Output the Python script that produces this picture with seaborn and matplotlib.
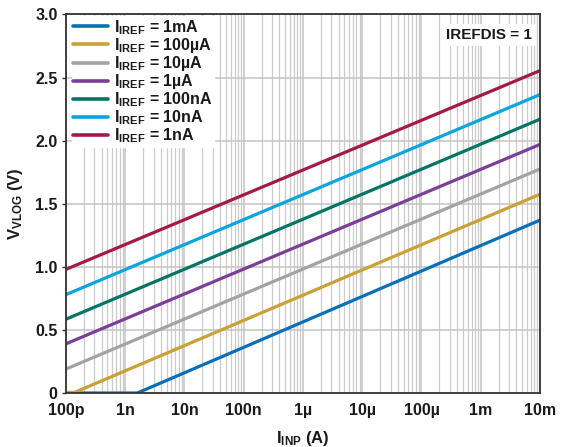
import numpy as np
import pandas as pd
import matplotlib
matplotlib.use("Agg")
import matplotlib.pyplot as plt
from matplotlib.ticker import FixedLocator, LogLocator, NullFormatter
import seaborn as sns

# Reference current settings and their trace colours
iref_labels = ["1mA", "100µA", "10µA", "1µA", "100nA", "10nA", "1nA"]
colors = ["#0a6fb8", "#c9a134", "#a3a3a3", "#7a3f96", "#007565", "#0aa5dc", "#a3194a"]

# Input current (A) and log-amp output voltage (V) breakpoints for each trace
x_1mA = [1e-10, 1.6e-9, 1e-2]
y_1mA = [0.0, 0.0, 1.37]
x_100uA = [1e-10, 1.4e-10, 1e-2]
y_100uA = [0.005, 0.005, 1.575]
x_10uA = [1e-10, 1e-2]
y_10uA = [0.19, 1.775]
x_1uA = [1e-10, 1e-2]
y_1uA = [0.39, 1.97]
x_100nA = [1e-10, 1e-2]
y_100nA = [0.585, 2.17]
x_10nA = [1e-10, 1e-2]
y_10nA = [0.78, 2.365]
x_1nA = [1e-10, 1e-2]
y_1nA = [0.98, 2.555]

xs = [x_1mA, x_100uA, x_10uA, x_1uA, x_100nA, x_10nA, x_1nA]
ys = [y_1mA, y_100uA, y_10uA, y_1uA, y_100nA, y_10nA, y_1nA]

x_tick_values = [1e-10, 1e-9, 1e-8, 1e-7, 1e-6, 1e-5, 1e-4, 1e-3, 1e-2]
x_tick_labels = ["100p", "1n", "10n", "100n", "1µ", "10µ", "100µ", "1m", "10m"]
y_tick_values = [0, 0.5, 1.0, 1.5, 2.0, 2.5, 3.0]
y_tick_labels = ["0", "0.5", "1.0", "1.5", "2.0", "2.5", "3.0"]

sns.set_theme(style="white")
plt.rcParams["font.family"] = ["Liberation Sans", "DejaVu Sans"]
plt.rcParams["font.weight"] = "bold"
plt.rcParams["mathtext.fontset"] = "custom"
plt.rcParams["mathtext.rm"] = "Liberation Sans:bold"
plt.rcParams["mathtext.it"] = "Liberation Sans:bold"
plt.rcParams["mathtext.bf"] = "Liberation Sans:bold"

labels = [r"$\mathregular{I_{IREF}}$ = " + s for s in iref_labels]
frames = []
for lab, xv, yv in zip(labels, xs, ys):
    frames.append(pd.DataFrame({"iinp": xv, "vvlog": yv, "series": lab}))
df = pd.concat(frames, ignore_index=True)

fig = plt.figure(figsize=(5.8, 4.47), dpi=100)
ax = fig.add_axes([0.1138, 0.1208, 0.8172, 0.8468])

sns.lineplot(data=df, x="iinp", y="vvlog", hue="series", hue_order=labels,
             palette=colors, linewidth=2.3, ax=ax, sort=False, estimator=None)

ax.set_xscale("log")
ax.set_xlim(1e-10, 1e-2)
ax.set_ylim(0, 3.0)

ax.xaxis.set_major_locator(FixedLocator(x_tick_values))
ax.set_xticks(x_tick_values)
ax.set_xticklabels(x_tick_labels)
ax.xaxis.set_minor_locator(LogLocator(base=10, subs=np.arange(2, 10), numticks=50))
ax.xaxis.set_minor_formatter(NullFormatter())
ax.set_yticks(y_tick_values)
ax.set_yticklabels(y_tick_labels)

ax.grid(True, which="major", axis="both", color="#c4c4c4", linewidth=1.1)
ax.grid(True, which="minor", axis="x", color="#cbcbcb", linewidth=0.9)
ax.set_axisbelow(True)

ax.tick_params(axis="x", which="both", length=0, pad=7, labelsize=11.5)
ax.tick_params(axis="y", which="major", length=3, width=1, direction="out",
               left=True, pad=3, labelsize=11.5, color="#333333")
for lab in ax.get_xticklabels() + ax.get_yticklabels():
    lab.set_fontweight("bold")
    lab.set_color("#1a1a1a")

for sp in ax.spines.values():
    sp.set_visible(True)
    sp.set_color("#333333")
    sp.set_linewidth(1.3)

ax.set_xlabel(r"$\mathregular{I_{INP}}$ (A)", fontsize=12, fontweight="bold",
              color="#1a1a1a", labelpad=8)
ax.set_ylabel(r"$\mathregular{V_{VLOG}}$ (V)", fontsize=12, fontweight="bold",
              color="#1a1a1a", labelpad=7)

leg = ax.legend(loc="upper left", bbox_to_anchor=(0.01, 0.997), frameon=True,
                fancybox=False, framealpha=1.0, edgecolor="white",
                facecolor="white", fontsize=11.5, handlelength=2.2,
                handletextpad=0.35, labelspacing=-0.05, borderpad=0.1,
                borderaxespad=0.05, title=None)
for t in leg.get_texts():
    t.set_fontweight("bold")
    t.set_color("#1a1a1a")
for h in leg.get_lines():
    h.set_linewidth(2.6)

ax.text(0.983, 0.965, "IREFDIS = 1", transform=ax.transAxes, ha="right", va="top",
        fontsize=11, fontweight="bold", color="#1a1a1a",
        bbox=dict(facecolor="white", edgecolor="none", pad=3))

fig.savefig("out.png", dpi=100)
